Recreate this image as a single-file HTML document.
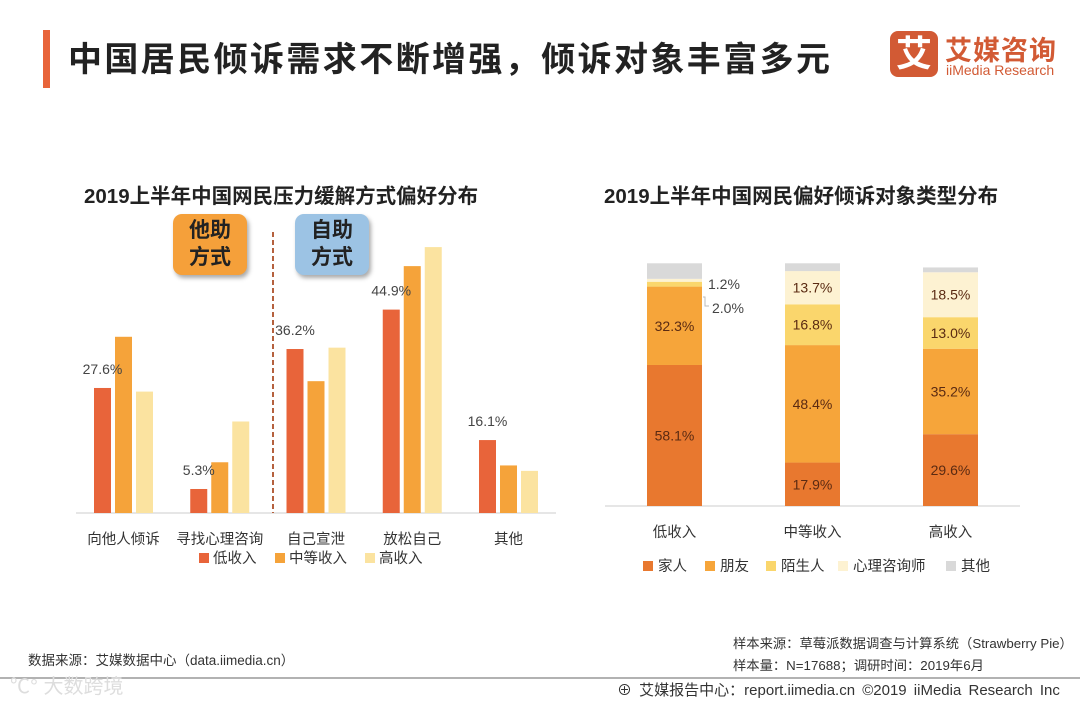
<!DOCTYPE html>
<html><head><meta charset="utf-8"><style>
body{margin:0;width:1080px;height:702px;background:#fff;overflow:hidden;font-family:"Liberation Sans","Noto Sans CJK SC",sans-serif;position:relative}
.a{position:absolute;white-space:nowrap}
</style></head><body>
<div class="a" style="left:43px;top:30px;width:7px;height:58px;background:#e8643a"></div>
<div class="a" style="left:68px;top:32px;font-size:34px;letter-spacing:2.4px;font-weight:bold;color:#222">中国居民倾诉需求不断增强，倾诉对象丰富多元</div>
<div class="a" style="left:890px;top:31px;width:48px;height:46px;background:#d25a34;border-radius:8px;color:#fff;font-size:36px;font-weight:bold;text-align:center;line-height:46px">艾</div>
<div class="a" style="left:945px;top:29px;font-size:27px;font-weight:bold;color:#d25a34;letter-spacing:1px">艾媒咨询</div>
<div class="a" style="left:946px;top:62px;font-size:14px;color:#d25a34">iiMedia Research</div>

<svg class="a" style="left:0;top:0" width="1080" height="702">
<g id="left"></g>
<g id="right"></g>
<line x1="0" y1="678" x2="1080" y2="678" stroke="#999" stroke-width="1.5"/>
</svg>

<div class="a" style="left:84px;top:179px;font-size:20.5px;font-weight:bold;color:#222">2019上半年中国网民压力缓解方式偏好分布</div>
<div class="a" style="left:604px;top:179px;font-size:20.5px;font-weight:bold;color:#222">2019上半年中国网民偏好倾诉对象类型分布</div>

<div class="a" style="left:173px;top:214px;width:74px;height:61px;background:#f5a03a;border-radius:9px;box-shadow:2px 3px 4px #aaa;font-size:21px;font-weight:bold;color:#222;text-align:center;line-height:27px;padding-top:3px;box-sizing:border-box">他助<br>方式</div>
<div class="a" style="left:295px;top:214px;width:74px;height:61px;background:#9cc3e4;border-radius:9px;box-shadow:2px 3px 4px #aaa;font-size:21px;font-weight:bold;color:#222;text-align:center;line-height:27px;padding-top:3px;box-sizing:border-box">自助<br>方式</div>

<div class="a" style="left:28px;top:649px;font-size:13.5px;color:#333">数据来源：艾媒数据中心（data.iimedia.cn）</div>
<div class="a" style="left:733px;top:633px;font-size:13.3px;color:#333">样本来源：草莓派数据调查与计算系统（Strawberry Pie）</div>
<div class="a" style="left:733px;top:655px;font-size:13.3px;color:#333">样本量：N=17688；调研时间：2019年6月</div>
<div class="a" style="left:617px;top:679px;font-size:15px;word-spacing:3px;color:#333">⊕ 艾媒报告中心：report.iimedia.cn  ©2019  iiMedia Research  Inc</div>
<div class="a" style="left:10px;top:670px;font-size:20px;color:#ddd">℃° 大数跨境</div>

<script>
const NS='http://www.w3.org/2000/svg';
function mk(p,t,at,txt){const e=document.createElementNS(NS,t);for(const k in at)e.setAttribute(k,at[k]);if(txt!==undefined)e.textContent=txt;p.appendChild(e);return e;}
// Left chart data
const leftCats=['向他人倾诉','寻找心理咨询','自己宣泄','放松自己','其他'];
const lowIncome=[27.6,5.3,36.2,44.9,16.1];
const midIncome=[38.9,11.2,29.1,54.5,10.5];
const highIncome=[26.8,20.2,36.5,58.7,9.3];
const leftSeriesNames=['低收入','中等收入','高收入'];
// Right chart data
const rightCats=['低收入','中等收入','高收入'];
const family=[58.1,17.9,29.6];
const friends=[32.3,48.4,35.2];
const strangers=[2.0,16.8,13.0];
const counselor=[1.2,13.7,18.5];
const others=[6.4,3.2,2.0];
const rightSeriesNames=['家人','朋友','陌生人','心理咨询师','其他'];

const L=document.getElementById('left');
const base=513, sc=4.53;
const ly=v=>base-v*sc;
const gx=i=>123.5+i*96.25;
mk(L,'line',{x1:76,y1:base,x2:556,y2:base,stroke:'#ddd','stroke-width':1.5});
mk(L,'line',{x1:273,y1:232,x2:273,y2:base,stroke:'#b5613e','stroke-width':2,'stroke-dasharray':'5,3'});
const lc=['#e8643a','#f5a33a','#fbe3a0'];
[lowIncome,midIncome,highIncome].forEach((s,k)=>{
  s.forEach((v,i)=>{
    const r=mk(L,'rect',{x:gx(i)-29.5+k*21,y:ly(v),width:17,height:v*sc,fill:lc[k]});
    
    
  });
});
lowIncome.forEach((v,i)=>{
  const t=mk(L,'text',{x:gx(i)-21,y:ly(v)-14,'text-anchor':'middle','font-size':14,fill:'#444'},v.toFixed(1)+'%');
  
  
});
leftCats.forEach((c,i)=>{
  const t=mk(L,'text',{x:gx(i),y:544,'text-anchor':'middle','font-size':14.5,fill:'#333'},c);
  
  
});
const lgx=[199,275,365];
leftSeriesNames.forEach((n,k)=>{
  mk(L,'rect',{x:lgx[k],y:553,width:10,height:10,fill:lc[k]});
  const t=mk(L,'text',{x:lgx[k]+14,y:563,'font-size':14.5,fill:'#333'},n);
  
  
});

const R=document.getElementById('right');
const rb=506, rs=2.427;
const rx=i=>647+i*138;
mk(R,'line',{x1:605,y1:rb,x2:1020,y2:rb,stroke:'#ddd','stroke-width':1.5});
const rc=['#e8782f','#f6a53a','#fad66c','#fdf2d2','#d9d9d9'];
const series=[family,friends,strangers,counselor,others];
rightCats.forEach((c,i)=>{
  let acc=0;
  series.forEach((s,k)=>{
    const v=s[i];
    const y=rb-(acc+v)*rs;
    const r=mk(R,'rect',{x:rx(i),y:y,width:55,height:v*rs,fill:rc[k]});
    
    
    if(k<4 && !(i===0&&k>=2)){
      const t=mk(R,'text',{x:rx(i)+27.5,y:y+v*rs/2+5,'text-anchor':'middle','font-size':14,fill:'#5a2a12'},v.toFixed(1)+'%');
      
      
    }
    acc+=v;
  });
  const t=mk(R,'text',{x:rx(i)+27.5,y:537,'text-anchor':'middle','font-size':14.5,fill:'#333'},c);
  
  
});
const t1=mk(R,'text',{x:708,y:289,'font-size':14,fill:'#444'},counselor[0].toFixed(1)+'%');


const t2=mk(R,'text',{x:712,y:313,'font-size':14,fill:'#444'},strangers[0].toFixed(1)+'%');


mk(R,'polyline',{points:'703,297 705,297 705,306 709,306',fill:'none',stroke:'#bbb'});
const rgx=[643,705,766,838,946];
rightSeriesNames.forEach((n,k)=>{
  mk(R,'rect',{x:rgx[k],y:561,width:10,height:10,fill:rc[k]});
  const t=mk(R,'text',{x:rgx[k]+15,y:571,'font-size':14.5,fill:'#333'},n);
  
  
});
</script>
</body></html>
